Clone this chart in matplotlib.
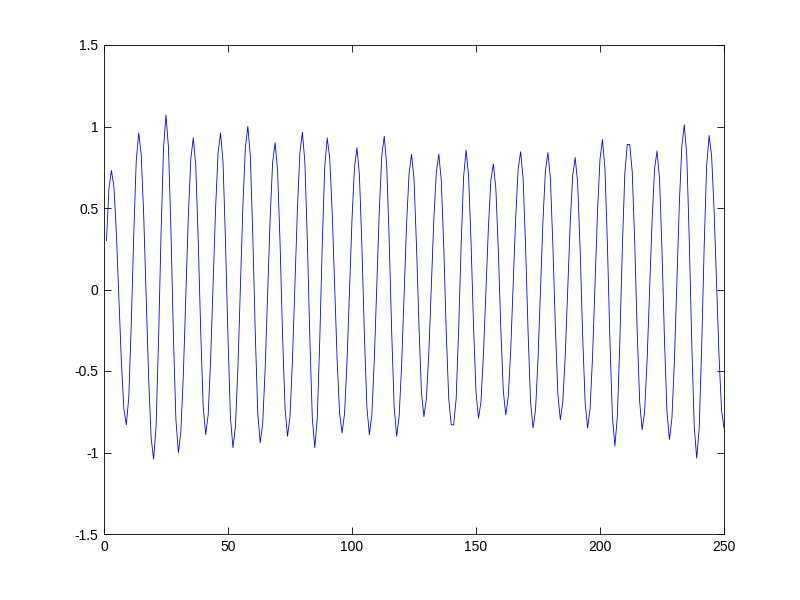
import matplotlib
matplotlib.use("Agg")
import matplotlib.pyplot as plt

# sample values (one per sample, samples 1..250)
signal = [
    0.30, 0.62, 0.73, 0.63, 0.34, -0.05, -0.44, -0.73, -0.83, -0.66,
    -0.21, 0.34, 0.79, 0.96, 0.83, 0.46, -0.04, -0.54, -0.91, -1.04,
    -0.84, -0.31, 0.34, 0.87, 1.07, 0.87, 0.36, -0.29, -0.80, -1.00,
    -0.87, -0.52, -0.04, 0.45, 0.80, 0.93, 0.76, 0.30, -0.26, -0.72,
    -0.89, -0.77, -0.43, 0.04, 0.50, 0.84, 0.96, 0.78, 0.29, -0.30,
    -0.79, -0.97, -0.84, -0.48, 0.02, 0.51, 0.87, 1.00, 0.82, 0.33,
    -0.27, -0.76, -0.94, -0.82, -0.48, -0.02, 0.44, 0.78, 0.90, 0.73,
    0.28, -0.28, -0.73, -0.90, -0.78, -0.43, 0.03, 0.50, 0.84, 0.965,
    0.78, 0.30, -0.30, -0.79, -0.97, -0.79, -0.31, 0.27, 0.75, 0.93,
    0.81, 0.48, 0.03, -0.43, -0.76, -0.88, -0.76, -0.44, -0.01, 0.43,
    0.75, 0.87, 0.70, 0.26, -0.28, -0.72, -0.89, -0.77, -0.43, 0.03,
    0.48, 0.82, 0.94, 0.76, 0.30, -0.26, -0.72, -0.90, -0.78, -0.47,
    -0.04, 0.40, 0.71, 0.83, 0.68, 0.27, -0.22, -0.63, -0.78, -0.67,
    -0.38, 0.03, 0.43, 0.72, 0.83, 0.67, 0.26, -0.26, -0.67, -0.83,
    -0.83, -0.67, -0.25, 0.27, 0.69, 0.855, 0.70, 0.29, -0.22, -0.63,
    -0.79, -0.69, -0.40, -0.01, 0.38, 0.67, 0.77, 0.62, 0.24, -0.24,
    -0.62, -0.77, -0.66, -0.37, 0.04, 0.44, 0.74, 0.845, 0.68, 0.26,
    -0.26, -0.69, -0.85, -0.74, -0.43, -0.01, 0.42, 0.73, 0.84, 0.68,
    0.27, -0.23, -0.64, -0.80, -0.69, -0.40, 0.01, 0.41, 0.70, 0.81,
    0.65, 0.24, -0.28, -0.69, -0.85, -0.73, -0.41, 0.04, 0.48, 0.80,
    0.92, 0.74, 0.27, -0.31, -0.78, -0.96, -0.78, -0.32, 0.25, 0.71,
    0.89, 0.89, 0.72, 0.29, -0.26, -0.69, -0.86, -0.75, -0.43, -0.01,
    0.42, 0.74, 0.85, 0.68, 0.24, -0.31, -0.75, -0.92, -0.79, -0.44,
    0.05, 0.53, 0.88, 1.01, 0.82, 0.30, -0.33, -0.84, -1.035, -0.85,
    -0.35, 0.26, 0.76, 0.945, 0.82, 0.49, 0.04, -0.41, -0.74, -0.85,
]
samples = list(range(1, len(signal) + 1))

x_ticks = [0, 50, 100, 150, 200, 250]
y_ticks = [-1.5, -1, -0.5, 0, 0.5, 1, 1.5]
y_tick_labels = ["-1.5", "-1", "-0.5", "0", "0.5", "1", "1.5"]

plt.rcParams['font.family'] = ['Liberation Sans', 'DejaVu Sans']

fig = plt.figure(figsize=(8, 6), dpi=100)
ax = fig.add_axes([0.13, 0.11, 0.775, 0.815])

ax.plot(samples, signal, color=(0, 0, 1), linewidth=0.6)

ax.set_xlim(0, 250)
ax.set_ylim(-1.5, 1.5)
ax.set_xticks(x_ticks)
ax.set_xticklabels([str(t) for t in x_ticks])
ax.set_yticks(y_ticks)
ax.set_yticklabels(y_tick_labels)

ax.tick_params(direction='in', length=5, width=0.6, labelsize=10,
               top=True, right=True, pad=4)
for spine in ax.spines.values():
    spine.set_linewidth(0.6)

fig.savefig("out.png", dpi=100, facecolor="white")
